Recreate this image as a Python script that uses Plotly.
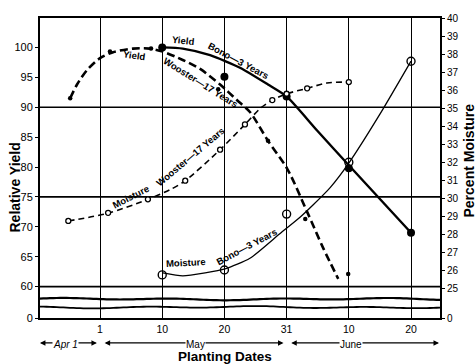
import numpy as np
import plotly.graph_objects as go

# ---------------- data ----------------
TICK_POS = [0, 1, 2, 3, 4, 5]
TICK_TEXT = ["1", "10", "20", "31", "10", "20"]

LEFT_TICKS = [60, 65, 70, 75, 80, 85, 90, 95, 100]
RIGHT_TICKS = list(range(25, 41))
GRID_Y = [60, 75, 90]

# Yield, Bono - 3 years (left axis)
BONO_YIELD_X = [1, 2, 3, 4, 5]
BONO_YIELD_Y = [100.0, 95.1, 91.8, 79.8, 69.0]
BONO_YIELD_CURVE_X = [1.0, 1.33, 1.77, 2.25, 2.70, 3.0, 3.49, 4.0, 5.0]
BONO_YIELD_CURVE_Y = [100.0, 99.8, 98.7, 96.6, 93.8, 91.8, 86.1, 80.3, 69.0]

# Yield, Wooster - 17 years (left axis)
WOOSTER_YIELD_X = [-0.48, 0.16, 0.82, 1.90, 2.70, 3.30, 3.99]
WOOSTER_YIELD_Y = [91.5, 99.3, 99.8, 93.0, 84.4, 71.3, 62.1]
WOOSTER_YIELD_CURVE_X = [-0.48, -0.37, -0.21, 0.0, 0.21, 0.53, 0.80, 1.01, 1.33,
                         1.61, 1.93, 2.20, 2.41, 2.70, 3.01, 3.33, 3.59, 3.83]
WOOSTER_YIELD_CURVE_Y = [91.5, 93.8, 96.2, 98.2, 99.2, 99.8, 99.8, 99.3, 97.9,
                         96.4, 93.8, 91.2, 89.2, 84.4, 79.7, 72.5, 66.4, 61.3]

# Moisture, Wooster - 17 years (right axis)
WOOSTER_MOIST_X = [-0.51, 0.13, 0.77, 1.37, 1.93, 2.33, 2.77, 3.0, 3.33, 4.0]
WOOSTER_MOIST_Y = [28.75, 29.2, 29.95, 30.98, 32.7, 34.1, 35.45, 35.8, 36.1, 36.45]
WOOSTER_MOIST_CURVE_X = [-0.51, 0.13, 0.77, 1.13, 1.37, 1.93, 2.33, 2.58, 2.77,
                         3.0, 3.33, 3.65, 4.0]
WOOSTER_MOIST_CURVE_Y = [28.75, 29.18, 29.95, 30.49, 30.98, 32.7, 34.1, 35.0,
                         35.45, 35.8, 36.1, 36.4, 36.45]

# Moisture, Bono - 3 years (right axis)
BONO_MOIST_X = [1, 2, 3, 4, 5]
BONO_MOIST_Y = [25.76, 26.03, 29.13, 32.0, 37.6]
BONO_MOIST_CURVE_X = [1.01, 1.33, 1.69, 2.01, 2.41, 2.89, 3.22, 3.42, 3.70, 4.0, 4.5, 5.0]
BONO_MOIST_CURVE_Y = [25.87, 25.71, 25.87, 26.09, 26.68, 28.04, 28.97, 29.62,
                      30.60, 31.96, 34.67, 37.61]

# ---------------- figure ----------------
FONT = "Liberation Sans"
X_RANGE = [-0.965, 5.466]
Y_RANGE = [54.75, 104.92]
Y2_RANGE = [23.37, 40.0]

fig = go.Figure()

# curves
fig.add_trace(go.Scatter(x=WOOSTER_YIELD_CURVE_X, y=WOOSTER_YIELD_CURVE_Y, mode="lines",
                         line=dict(color="black", width=2.6, dash="8px,4px", shape="spline", smoothing=0.8),
                         hoverinfo="skip"))
fig.add_trace(go.Scatter(x=BONO_YIELD_CURVE_X, y=BONO_YIELD_CURVE_Y, mode="lines",
                         line=dict(color="black", width=2.4, shape="spline", smoothing=0.6),
                         hoverinfo="skip"))
fig.add_trace(go.Scatter(x=WOOSTER_MOIST_CURVE_X, y=WOOSTER_MOIST_CURVE_Y, mode="lines", yaxis="y2",
                         line=dict(color="black", width=1.6, dash="6px,4px", shape="spline", smoothing=0.8),
                         hoverinfo="skip"))
fig.add_trace(go.Scatter(x=BONO_MOIST_CURVE_X, y=BONO_MOIST_CURVE_Y, mode="lines", yaxis="y2",
                         line=dict(color="black", width=1.3, shape="spline", smoothing=0.6),
                         hoverinfo="skip"))

# points
fig.add_trace(go.Scatter(x=WOOSTER_YIELD_X, y=WOOSTER_YIELD_Y, mode="markers",
                         marker=dict(color="black", size=4.5)))
fig.add_trace(go.Scatter(x=BONO_YIELD_X, y=BONO_YIELD_Y, mode="markers",
                         marker=dict(color="black", size=8)))
fig.add_trace(go.Scatter(x=WOOSTER_MOIST_X, y=WOOSTER_MOIST_Y, mode="markers", yaxis="y2",
                         marker=dict(color="white", size=5, line=dict(color="black", width=1.3))))
fig.add_trace(go.Scatter(x=BONO_MOIST_X, y=BONO_MOIST_Y, mode="markers", yaxis="y2",
                         marker=dict(color="rgba(255,255,255,0)", size=8, line=dict(color="black", width=1.4))))

shapes = []
for gy in GRID_Y:
    shapes.append(dict(type="line", xref="paper", x0=0, x1=1, yref="y", y0=gy, y1=gy,
                       line=dict(color="black", width=1.6), layer="below"))


# broken-axis wavy lines (decoration)
def wavy(y0, amp, phase):
    xs = np.linspace(0, 1, 121)
    ys = y0 + amp * (np.sin(xs * 23 + phase) * 0.6 + np.sin(xs * 9 + 2 * phase) * 0.4)
    return "M " + " L ".join(f"{a:.4f},{b:.4f}" for a, b in zip(xs, ys))


shapes.append(dict(type="path", xref="paper", yref="paper", path=wavy(0.063, 0.004, 0.3),
                   line=dict(color="black", width=2.2)))
shapes.append(dict(type="path", xref="paper", yref="paper", path=wavy(0.036, 0.004, 1.7),
                   line=dict(color="black", width=1.8)))

ann = []
LAB = dict(family=FONT, size=9.5, color="black")


def curve_label(text, x, y, angle, yref="y"):
    ann.append(dict(text=f"<b>{text}</b>", x=x, y=y, xref="x", yref=yref, showarrow=False,
                    xanchor="center", yanchor="middle", textangle=angle, font=LAB))


curve_label("Yield", 1.35, 101.2, 6)
curve_label("Bono—3 Years", 2.22, 97.8, 28)
curve_label("Yield", 0.56, 98.6, 8)
curve_label("Wooster—17 Years", 1.62, 94.2, 32)
curve_label("Moisture", 0.50, 30.1, -27, "y2")
curve_label("Wooster—17 Years", 1.45, 32.35, -40, "y2")
curve_label("Moisture", 1.38, 26.45, -3, "y2")
curve_label("Bono—3 Years", 2.36, 27.35, -28, "y2")

# month spans with arrows under the axis
MONTH_Y = -0.083
MONTHS = [("<i>Apr 1</i>", -0.99, -0.05, -0.55), ("May", 0.05, 2.95, 1.53), ("June", 3.05, 5.45, 4.03)]
for label, a0, a1, mid in MONTHS:
    ann.append(dict(text="", x=a1, y=MONTH_Y, xref="x", yref="paper", ax=a0, ay=0,
                    axref="x", ayref="pixel", showarrow=True, arrowhead=2, arrowside="end+start",
                    arrowsize=1, arrowwidth=1.1, arrowcolor="black", standoff=0, startstandoff=0))
for label, a0, a1, mid in MONTHS:
    ann.append(dict(text=label, x=mid, y=MONTH_Y, xref="x", yref="paper", showarrow=False,
                    xanchor="center", yanchor="middle", yshift=-2, bgcolor="white", borderpad=0,
                    font=dict(family=FONT, size=10, color="black")))

ann.append(dict(text="<b>Planting Dates</b>", x=(225 - 40) / 400, y=-0.13, xref="paper", yref="paper",
                xanchor="center", yanchor="middle", showarrow=False,
                font=dict(family=FONT, size=13.5, color="black")))
ann.append(dict(text="<b>Relative Yield</b>", x=-0.0625, y=0.435, xref="paper", yref="paper",
                xanchor="center", yanchor="middle", showarrow=False, textangle=-90,
                font=dict(family=FONT, size=14, color="black")))
ann.append(dict(text="<b>Percent Moisture</b>", x=1.07, y=0.525, xref="paper", yref="paper",
                xanchor="center", yanchor="middle", showarrow=False, textangle=-90,
                font=dict(family=FONT, size=14, color="black")))

fig.update_layout(
    width=475, height=364,
    margin=dict(l=40, r=35, t=12, b=46),
    plot_bgcolor="white", paper_bgcolor="white",
    showlegend=False,
    font=dict(family=FONT, color="black", size=11),
    shapes=shapes, annotations=ann,
    xaxis=dict(range=X_RANGE, tickvals=TICK_POS, ticktext=TICK_TEXT, showgrid=True,
               gridcolor="black", gridwidth=1.3, showline=True, linecolor="black", linewidth=2,
               mirror=True, ticks="", zeroline=False, tickfont=dict(size=10.5)),
    yaxis=dict(range=Y_RANGE, tickvals=[Y_RANGE[0]] + LEFT_TICKS,
               ticktext=["0"] + [str(v) for v in LEFT_TICKS], showgrid=False, zeroline=False,
               showline=True, linecolor="black", linewidth=2, ticks="outside", ticklen=3,
               tickwidth=1, tickcolor="black", tickfont=dict(size=11)),
    yaxis2=dict(range=Y2_RANGE, overlaying="y", side="right", tickvals=[Y2_RANGE[0]] + RIGHT_TICKS,
                ticktext=["0"] + [str(v) for v in RIGHT_TICKS], showgrid=False, zeroline=False,
                showline=True, linecolor="black", linewidth=2, ticks="outside", ticklen=3,
                tickwidth=1, tickcolor="black", tickfont=dict(size=10)),
)

fig.write_html("out.html", config={"displayModeBar": False},
               post_script="document.body.style.margin='0';document.body.style.padding='0';")
